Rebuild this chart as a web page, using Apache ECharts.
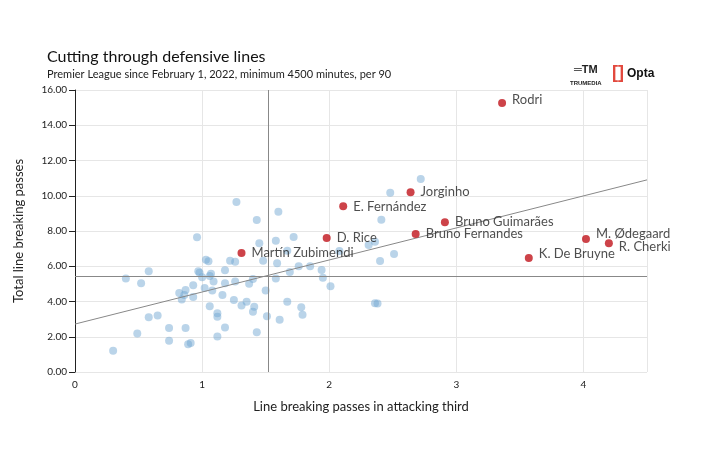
<!DOCTYPE html>
<html>
<head>
<meta charset="utf-8" />
<title>Cutting through defensive lines</title>
<script src="https://cdn.jsdelivr.net/npm/echarts@6/dist/echarts.min.js"></script>
<style>
  body { margin: 0; background: #fff; }
</style>
</head>
<body>
<div id="main" style="width: 720px;height:450px;"></div>
<script type="text/javascript">
// highlighted players
var namedPlayers = ['Rodri', 'Jorginho', 'E. Fernández', 'Bruno Guimarães', 'Bruno Fernandes', 'D. Rice', 'Martín Zubimendi', 'M. Ødegaard', 'R. Cherki', 'K. De Bruyne'];
var namedX = [3.36, 2.64, 2.11, 2.91, 2.68, 1.98, 1.31, 4.02, 4.2, 3.57];
var namedY = [15.26, 10.2, 9.4, 8.5, 7.83, 7.6, 6.75, 7.55, 7.3, 6.47];

// everyone else
var otherX = [1.27, 1.6, 1.43, 0.96, 1.45, 1.58, 1.72, 1.67, 1.48, 1.59, 1.03, 1.05, 1.22, 1.26, 1.18, 0.97, 0.98, 1.07, 1.0, 1.06,
  1.09, 0.58, 0.4, 0.52, 0.93, 1.02, 1.08, 1.18, 1.26, 1.37, 1.4, 1.58, 1.5, 1.69, 1.76, 1.85, 1.94, 1.95, 2.01, 2.08,
  0.82, 0.87, 0.86, 0.84, 0.93, 1.16, 1.25, 1.35, 1.31, 1.41, 1.4, 1.06, 1.12, 1.12, 1.67, 1.78, 1.79, 1.51, 1.61, 1.43,
  1.18, 1.12, 0.65, 0.58, 0.74, 0.87, 0.49, 0.74, 0.89, 0.91, 0.3, 2.36, 2.38, 2.41, 2.48, 2.31, 2.36, 2.4, 2.51, 2.72];
var otherY = [9.64, 9.09, 8.62, 7.64, 7.3, 7.45, 7.66, 6.88, 6.31, 6.17, 6.37, 6.28, 6.31, 6.26, 5.77, 5.71, 5.63, 5.58, 5.37, 5.45,
  5.14, 5.71, 5.31, 5.03, 4.92, 4.76, 4.63, 5.03, 5.14, 5.01, 5.28, 5.31, 4.63, 5.67, 6.0, 6.0, 5.79, 5.35, 4.86, 6.86,
  4.48, 4.65, 4.37, 4.12, 4.25, 4.37, 4.08, 3.99, 3.78, 3.7, 3.42, 3.73, 3.33, 3.14, 3.99, 3.67, 3.25, 3.16, 2.97, 2.25,
  2.53, 2.02, 3.21, 3.1, 2.5, 2.5, 2.19, 1.78, 1.57, 1.64, 1.21, 3.9, 3.89, 8.64, 10.17, 7.2, 7.39, 6.3, 6.69, 10.95];

var meanX = 1.52;
var meanY = 5.46;
var trendStart = [0, 2.72];
var trendEnd = [4.5, 10.9];

var font = 'Lato, "Open Sans", sans-serif';
var myChart = echarts.init(document.getElementById('main'));

// nudge overlapping labels
var labelNudge = { 'M. Ødegaard': [0, -5], 'R. Cherki': [0, 3], 'K. De Bruyne': [0, -4], 'Rodri': [0, -3] };

var option = {
  animation: false,
  textStyle: { fontFamily: font },
  title: {
    text: 'Cutting through defensive lines',
    subtext: 'Premier League since February 1, 2022, minimum 4500 minutes, per 90',
    left: 42, top: 44, itemGap: 4,
    textStyle: { color: '#111', fontSize: 16, fontWeight: 'normal', fontFamily: font },
    subtextStyle: { color: '#222', fontSize: 11, fontFamily: font }
  },
  graphic: [
    { type: 'text', left: 574, top: 64, style: { text: '═TM', fontSize: 11, fontWeight: 'bold', fill: '#222' } },
    { type: 'text', left: 570, top: 80, style: { text: 'TRUMEDIA', fontSize: 6, fontWeight: 'bold', fill: '#222' } },
    { type: 'text', left: 612, top: 64, style: { text: '[]', fontSize: 18, fontWeight: 'bold', fill: '#e2483d' } },
    { type: 'text', left: 627, top: 68, style: { text: 'Opta', fontSize: 12, fontWeight: 'bold', fill: '#111' } }
  ],
  grid: { left: 75, right: 73, top: 90, bottom: 78 },
  xAxis: {
    type: 'value', min: 0, max: 4.5, interval: 1,
    name: 'Line breaking passes in attacking third',
    nameLocation: 'middle', nameGap: 28,
    nameTextStyle: { color: '#222', fontSize: 13, fontFamily: font },
    axisLine: { show: false }, axisTick: { show: false },
    axisLabel: { color: '#222', fontSize: 10, showMaxLabel: false },
    splitLine: { lineStyle: { color: '#e6e6e6' } }
  },
  yAxis: {
    type: 'value', min: 0, max: 16, interval: 2,
    name: 'Total line breaking passes',
    nameLocation: 'middle', nameGap: 50,
    nameTextStyle: { color: '#222', fontSize: 13, fontFamily: font },
    axisLine: { show: true, lineStyle: { color: '#222' } },
    axisTick: { show: true, length: 6, lineStyle: { color: '#222' } },
    axisLabel: { color: '#222', fontSize: 10, formatter: function (v) { return v.toFixed(2); } },
    splitLine: { lineStyle: { color: '#e6e6e6' } }
  },
  series: [
    {
      type: 'scatter', symbolSize: 8,
      itemStyle: { color: 'rgba(110,165,210,0.6)' },
      data: otherX.map(function (x, i) { return [x, otherY[i]]; }),
      markLine: {
        silent: true, symbol: 'none', label: { show: false },
        lineStyle: { color: '#888', type: 'solid', width: 1 },
        data: [
          { xAxis: meanX },
          { yAxis: meanY },
          [{ coord: trendStart }, { coord: trendEnd }]
        ]
      }
    },
    {
      type: 'scatter', symbolSize: 8, z: 5,
      itemStyle: { color: '#c0141b' },
      label: {
        show: true, position: 'right', distance: 6,
        color: '#222', fontSize: 13, fontFamily: font,
        formatter: function (p) { return namedPlayers[p.dataIndex]; }
      },
      data: namedX.map(function (x, i) {
        var item = { value: [x, namedY[i]] };
        if (labelNudge[namedPlayers[i]]) item.label = { offset: labelNudge[namedPlayers[i]] };
        return item;
      })
    }
  ]
};
myChart.setOption(option);
</script>
</body>
</html>
